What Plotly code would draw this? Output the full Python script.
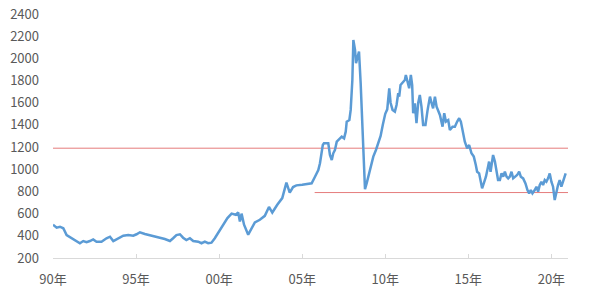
import plotly.graph_objects as go

# decimal year and value of the price series
years = [
    1990.0, 1990.22, 1990.42, 1990.62, 1990.82, 1991.12, 1991.42, 1991.62, 1991.82, 1992.02,
    1992.22, 1992.42, 1992.62, 1992.92, 1993.22, 1993.43, 1993.63, 1993.93, 1994.23, 1994.53,
    1994.83, 1995.03, 1995.23, 1995.53, 1995.83, 1996.13, 1996.43, 1996.73, 1997.04, 1997.23,
    1997.43, 1997.64, 1997.83, 1998.03, 1998.24, 1998.44, 1998.74, 1998.94, 1999.14, 1999.34,
    1999.54, 1999.74,
    2000.0, 2000.25, 2000.5, 2000.75, 2001.0, 2001.15, 2001.25, 2001.35, 2001.5, 2001.75,
    2001.95, 2002.15, 2002.45, 2002.75, 2003.0, 2003.2, 2003.5, 2003.8, 2004.05, 2004.25,
    2004.45, 2004.65, 2005.0, 2005.3, 2005.57, 2005.77, 2005.97, 2006.07, 2006.24, 2006.31,
    2006.57, 2006.67, 2006.78, 2006.87, 2006.97, 2007.08, 2007.28, 2007.38, 2007.52, 2007.62,
    2007.68, 2007.84, 2007.92, 2008.02, 2008.08, 2008.18, 2008.24, 2008.32, 2008.42, 2008.52,
    2008.62, 2008.72, 2008.78, 2008.88, 2009.02, 2009.18, 2009.28, 2009.44, 2009.58, 2009.72,
    2009.85, 2010.0, 2010.12, 2010.24, 2010.32, 2010.44, 2010.58, 2010.68, 2010.78, 2010.84,
    2010.92, 2011.08, 2011.18, 2011.24, 2011.34, 2011.44, 2011.54, 2011.62, 2011.68, 2011.78,
    2011.88, 2011.98, 2012.08, 2012.18, 2012.28, 2012.42, 2012.55, 2012.69, 2012.79, 2012.88,
    2012.99, 2013.09, 2013.29, 2013.45, 2013.55, 2013.65, 2013.79, 2013.89, 2014.05, 2014.19,
    2014.33, 2014.45, 2014.55, 2014.65, 2014.79, 2014.93, 2015.05, 2015.19, 2015.33, 2015.45,
    2015.53, 2015.65, 2015.74, 2015.83, 2015.93, 2016.06, 2016.19, 2016.25, 2016.34, 2016.43,
    2016.49, 2016.6, 2016.7, 2016.79, 2016.9, 2017.0, 2017.1, 2017.2, 2017.3, 2017.4,
    2017.5, 2017.6, 2017.7, 2017.8, 2017.94, 2018.06, 2018.16, 2018.3, 2018.44, 2018.56,
    2018.66, 2018.76, 2018.86, 2019.0, 2019.1, 2019.2, 2019.3, 2019.4, 2019.5, 2019.6,
    2019.7, 2019.8, 2019.9, 2020.0, 2020.1, 2020.2, 2020.3, 2020.4, 2020.5, 2020.6,
    2020.7, 2020.8, 2020.86,
]
values = [
    500, 473, 482, 468, 407, 378, 353, 333, 353, 342,
    353, 368, 347, 347, 378, 392, 353, 378, 401, 407,
    401, 414, 432, 416, 407, 398, 383, 371, 353, 378,
    407, 414, 383, 362, 378, 353, 347, 333, 347, 333,
    338, 378,
    440, 500, 560, 600, 590, 610, 530, 600, 500, 410,
    460, 520, 545, 580, 660, 610, 680, 740, 880, 790,
    840, 855, 860, 865, 873, 933, 993, 1054, 1219, 1234,
    1234, 1129, 1084, 1144, 1174, 1249, 1279, 1294, 1279, 1339,
    1429, 1444, 1535, 1805, 2166, 2076, 1956, 2016, 2061, 1775,
    1354, 993, 820, 873, 963, 1069, 1114, 1174, 1234, 1300,
    1400, 1500, 1540, 1730, 1600, 1535, 1520, 1580, 1685, 1655,
    1760, 1790, 1805, 1850, 1790, 1730, 1850, 1760, 1505, 1595,
    1415, 1595, 1670, 1565, 1399, 1399, 1535, 1655, 1595, 1550,
    1655, 1565, 1490, 1384, 1505, 1430, 1444, 1354, 1384, 1384,
    1430, 1460, 1430, 1354, 1249, 1189, 1219, 1144, 1114, 1039,
    978, 963, 903, 828, 873, 933, 1024, 1069, 978, 1054,
    1129, 1069, 993, 903, 903, 963, 933, 978, 933, 918,
    933, 978, 918, 933, 948, 978, 933, 918, 873, 813,
    783, 813, 783, 813, 843, 798, 858, 888, 858, 903,
    888, 918, 963, 888, 843, 723, 798, 858, 903, 843,
    888, 948, 963,
]

# reference levels (red lines): level, start year, end year
ref_levels = [1190, 790]
ref_starts = [1990.0, 2005.75]
ref_ends = [2021.0, 2021.0]

tick_years = [1990, 1995, 2000, 2005, 2010, 2015, 2020]
tick_labels = ["90年", "95年", "00年", "05年", "10年", "15年", "20年"]
y_ticks = list(range(200, 2401, 200))

fig = go.Figure()
for lvl, s, e in zip(ref_levels, ref_starts, ref_ends):
    fig.add_trace(go.Scatter(x=[s, e], y=[lvl, lvl], mode="lines",
                             line=dict(color="#e57c7c", width=1),
                             hoverinfo="skip", showlegend=False))
fig.add_trace(go.Scatter(x=years, y=values, mode="lines",
                         line=dict(color="#5b9bd5", width=2.5),
                         showlegend=False))

font = dict(family="Noto Sans CJK SC, Noto Sans, sans-serif", size=13, color="#595959")
fig.update_layout(
    width=600, height=300,
    margin=dict(l=53, r=32, t=14, b=42),
    paper_bgcolor="white", plot_bgcolor="white",
    font=font,
    xaxis=dict(range=[1990, 2021], tickvals=tick_years, ticktext=tick_labels,
               showgrid=False, zeroline=False, showline=True, linecolor="#d9d9d9",
               linewidth=1, ticks="inside", ticklen=4, tickcolor="#d9d9d9",
               tickfont=font, automargin=False, ticklabelstandoff=9),
    yaxis=dict(range=[200, 2400], tickvals=y_ticks, showgrid=False, zeroline=False,
               showline=False, ticks="", tickfont=font, ticklabelstandoff=13,
               automargin=False),
)
fig.write_html("out.html")
